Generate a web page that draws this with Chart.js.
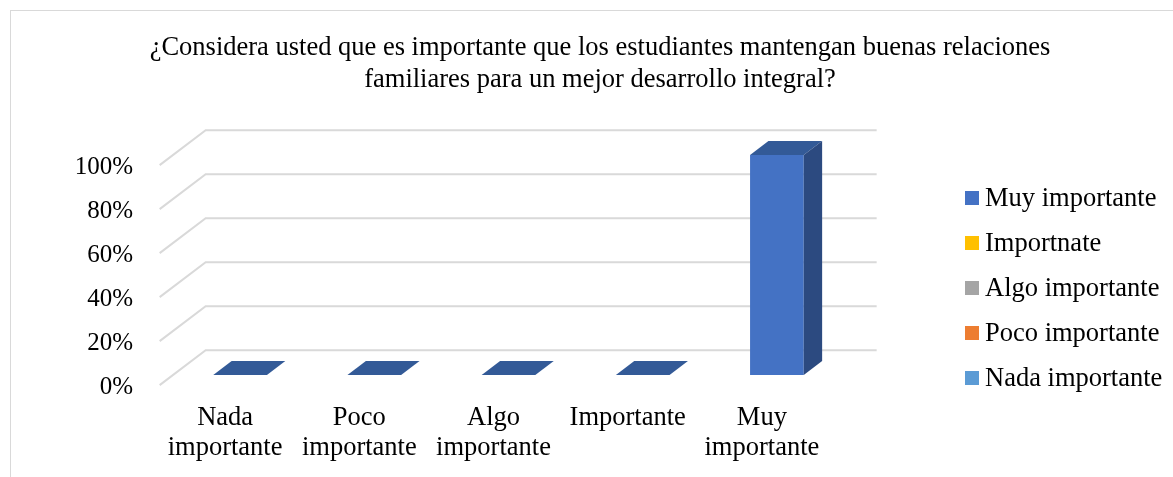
<!DOCTYPE html>
<html>
<head>
<meta charset="utf-8">
<script src="https://cdn.jsdelivr.net/npm/chart.js@4"></script>
<style>
    html, body { margin: 0; padding: 0; background: #fff; overflow: hidden; }
    #frame { position: absolute; left: 10px; top: 10px; width: 1400px; height: 700px; border: 1px solid #d9d9d9; }
    #wrap { position: absolute; left: 0; top: 0; width: 1173px; height: 477px; }
</style>
</head>
<body>
<div id="frame"></div>
<div id="wrap"><canvas id="chart"></canvas></div>
<script>
// datos de la gráfica
const titleLines = [
    '¿Considera usted que es importante que los estudiantes mantengan buenas relaciones',
    'familiares para un mejor desarrollo integral?'
];
const categories = [
    ['Nada', 'importante'],
    ['Poco', 'importante'],
    ['Algo', 'importante'],
    'Importante',
    ['Muy', 'importante']
];
const percentValues = [0, 0, 0, 0, 100];
const yTicks = [0, 20, 40, 60, 80, 100];
const legendLabels = ['Muy importante', 'Importnate', 'Algo importante', 'Poco importante', 'Nada importante'];
const legendColors = ['#4472c4', '#ffc000', '#a5a5a5', '#ed7d31', '#5b9bd5'];

const FONT = "'Liberation Serif', 'Times New Roman', serif";

// profundidad del efecto 3D (suelo completo y posición de la barra)
const depth = { dx: 46, dy: -35, t0: 0.29, t1: 0.69 };

// rejilla en el plano del fondo + diagonales de la pared izquierda
const gridPlugin = {
    id: 'grid3d',
    beforeDatasetsDraw(chart) {
        const { ctx, chartArea, scales } = chart;
        const bx = (1 - depth.t0) * depth.dx, by = (1 - depth.t0) * depth.dy;
        const fx = -depth.t0 * depth.dx, fy = -depth.t0 * depth.dy;
        ctx.save();
        ctx.strokeStyle = '#d9d9d9';
        ctx.lineWidth = 2;
        yTicks.forEach(v => {
            const y = scales.y.getPixelForValue(v);
            ctx.beginPath();
            ctx.moveTo(chartArea.left + fx, y + fy);
            ctx.lineTo(chartArea.left + bx, y + by);
            ctx.lineTo(chartArea.right + bx, y + by);
            ctx.stroke();
        });
        ctx.restore();
    },
    afterDatasetsDraw(chart) {
        const { ctx } = chart;
        const dx = (depth.t1 - depth.t0) * depth.dx, dy = (depth.t1 - depth.t0) * depth.dy;
        const meta = chart.getDatasetMeta(0);
        ctx.save();
        meta.data.forEach(bar => {
            const l = bar.x - bar.width / 2, r = bar.x + bar.width / 2;
            // cara superior
            ctx.fillStyle = '#335a97';
            ctx.beginPath();
            ctx.moveTo(l, bar.y);
            ctx.lineTo(r, bar.y);
            ctx.lineTo(r + dx, bar.y + dy);
            ctx.lineTo(l + dx, bar.y + dy);
            ctx.closePath();
            ctx.fill();
            // cara lateral
            if (bar.base - bar.y > 0.5) {
                ctx.fillStyle = '#2c4a80';
                ctx.beginPath();
                ctx.moveTo(r, bar.y);
                ctx.lineTo(r + dx, bar.y + dy);
                ctx.lineTo(r + dx, bar.base + dy);
                ctx.lineTo(r, bar.base);
                ctx.closePath();
                ctx.fill();
            }
        });
        ctx.restore();
    }
};

// leyenda dibujada a mano (cuadro pequeño pegado al texto, como en Excel)
const legendPlugin = {
    id: 'sideLegend',
    afterDraw(chart) {
        const { ctx } = chart;
        const x = 965, y0 = 198, step = 45, box = 14;
        ctx.save();
        ctx.font = '26.5px ' + FONT;
        ctx.textBaseline = 'middle';
        ctx.textAlign = 'left';
        legendLabels.forEach((text, i) => {
            const y = y0 + i * step;
            ctx.fillStyle = legendColors[i];
            ctx.fillRect(x, y - box / 2, box, box);
            ctx.fillStyle = '#000';
            ctx.fillText(text, x + box + 6, y + 1);
        });
        ctx.restore();
    }
};

new Chart(document.getElementById('chart'), {
    type: 'bar',
    data: {
        labels: categories,
        datasets: [{
            label: 'Serie 1',
            data: percentValues,
            backgroundColor: '#4472c4',
            borderWidth: 0,
            barPercentage: 0.4,
            categoryPercentage: 1.0
        }]
    },
    options: {
        responsive: true,
        maintainAspectRatio: false,
        animation: false,
        layout: { padding: { left: 27, right: 0, top: 0, bottom: 0 } },
        scales: {
            x: {
                grid: { display: false, drawTicks: false },
                border: { display: false },
                ticks: {
                    color: '#000',
                    font: { family: FONT, size: 26.5, lineHeight: 1.13 },
                    padding: 28,
                    labelOffset: -15,
                    maxRotation: 0,
                    autoSkip: false
                },
                afterFit(scale) { scale.height = 102; }
            },
            y: {
                min: 0,
                max: 100,
                grid: { display: false, drawTicks: false },
                border: { display: false },
                ticks: {
                    stepSize: 20,
                    color: '#000',
                    font: { family: FONT, size: 25 },
                    padding: 40,
                    labelOffset: 12,
                    callback: v => v + '%'
                },
                afterFit(scale) { scale.width = 146; }
            },
            // eje vacío: reserva el hueco de la leyenda a la derecha
            yLegend: {
                position: 'right',
                min: 0,
                max: 100,
                grid: { display: false, drawTicks: false },
                border: { display: false },
                ticks: { display: false },
                afterFit(scale) { scale.width = 329; }
            }
        },
        plugins: {
            title: {
                display: true,
                text: titleLines,
                color: '#000',
                font: { family: FONT, size: 26.5, weight: 'normal', lineHeight: 1.2 },
                padding: { top: 32, bottom: 59.4 }
            },
            legend: { display: false },
            tooltip: { enabled: false }
        }
    },
    plugins: [gridPlugin, legendPlugin]
});
</script>
</body>
</html>
